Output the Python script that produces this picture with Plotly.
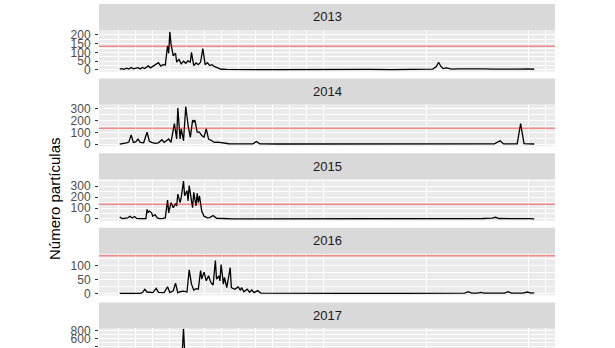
import plotly.graph_objects as go

# ---------------- data (day of year, number of particles) ----------------
years = ["2013", "2014", "2015", "2016", "2017"]

d13 = [1, 3, 5, 7, 9, 11, 13, 15, 17, 19,
       21, 23, 25, 26, 28, 30, 32, 35, 37, 39,
       41, 43, 44, 45, 46, 47, 48, 50, 51, 53,
       55, 57, 59, 61, 63, 64, 66, 68, 70, 72,
       74, 76, 78, 80, 82, 84, 86, 88, 90, 95,
       100, 110, 120, 140, 160, 180, 200, 220, 240, 260,
       270, 276, 279, 281, 283, 285, 288, 292, 300, 310,
       320, 330, 340, 350, 360, 365]
v13 = [5, 8, 4, 10, 5, 14, 6, 9, 13, 6,
       14, 8, 15, 23, 12, 20, 25, 42, 22, 30,
       28, 138, 95, 217, 150, 100, 80, 95, 45, 60,
       35, 50, 38, 52, 45, 100, 25, 40, 30, 45,
       122, 30, 42, 25, 30, 20, 15, 8, 4, 3,
       2, 3, 2, 2, 3, 2, 2, 3, 2, 3,
       3, 5, 20, 44, 20, 8, 12, 5, 6, 4,
       6, 5, 7, 5, 6, 4]

d14 = [1, 4, 7, 9, 11, 13, 15, 17, 19, 22,
       25, 27, 29, 32, 35, 38, 40, 44, 46, 49,
       51, 52, 54, 55, 57, 59, 61, 63, 65, 66,
       67, 69, 71, 73, 75, 77, 79, 82, 84, 87,
       90, 93, 97, 101, 110, 118, 121, 124, 140, 160,
       180, 200, 220, 240, 260, 275, 280, 285, 300, 315,
       330, 335, 338, 345, 350, 353, 356, 360, 365]
v14 = [0, 3, 12, 18, 79, 15, 20, 44, 15, 12,
       102, 25, 15, 8, 12, 38, 15, 44, 15, 175,
       44, 306, 44, 131, 30, 320, 160, 58, 204, 190,
       204, 102, 102, 73, 60, 131, 44, 29, 15, 18,
       12, 6, 4, 3, 2, 3, 23, 3, 2, 2,
       1, 1, 1, 1, 2, 2, 6, 2, 2, 2,
       3, 29, 3, 3, 4, 175, 5, 3, 2]

d15 = [1, 3, 5, 8, 10, 12, 14, 16, 19, 22,
       24, 25, 26, 27, 29, 30, 32, 34, 36, 39,
       41, 43, 44, 46, 48, 50, 51, 52, 54, 55,
       57, 58, 60, 61, 62, 64, 65, 66, 68, 69,
       70, 71, 73, 75, 78, 80, 83, 86, 90, 95,
       100, 120, 150, 200, 250, 280, 290, 300, 310, 320,
       328, 331, 334, 340, 350, 360, 365]
v15 = [18, 3, 6, 10, 25, 8, 22, 5, 2, 2,
       3, 87, 60, 72, 56, 25, 40, 9, 2, 5,
       9, 172, 56, 150, 103, 140, 119, 228, 150, 197,
       347, 212, 259, 166, 306, 166, 103, 244, 119, 234,
       150, 212, 72, 25, 9, 12, 31, 6, 4, 2,
       1, 1, 1, 1, 1, 2, 5, 4, 6, 4,
       8, 15, 4, 5, 3, 2, 1]

d16 = [1, 10, 19, 21, 23, 25, 30, 33, 35, 40,
       43, 45, 48, 50, 52, 54, 57, 60, 62, 64,
       66, 68, 70, 72, 73, 75, 77, 79, 81, 83,
       85, 86, 88, 89, 90, 91, 92, 93, 95, 98,
       99, 102, 105, 107, 108, 110, 113, 115, 117, 119,
       122, 125, 150, 200, 250, 300, 304, 307, 310, 315,
       318, 321, 330, 339, 342, 345, 355, 359, 362, 365]
v16 = [0, 0, 0, 3, 15, 5, 3, 18, 4, 3,
       24, 3, 9, 37, 2, 6, 8, 5, 84, 33,
       12, 17, 15, 82, 51, 76, 45, 63, 39, 30,
       118, 51, 63, 45, 103, 70, 33, 57, 21, 92,
       21, 15, 23, 11, 21, 6, 15, 4, 12, 3,
       10, 1, 0, 0, 0, 1, 1, 6, 1, 1,
       4, 1, 1, 1, 6, 1, 1, 5, 1, 2]

d17 = [1, 10, 20, 30, 40, 45, 50, 54, 56, 57,
       58, 60, 65, 70, 80, 90, 100, 150, 250, 365]
v17 = [5, 15, 30, 50, 110, 180, 230, 260, 300, 845,
       290, 250, 200, 140, 60, 20, 5, 2, 2, 2]

threshold = 135

x_major = [0, 30, 60, 90, 120, 150, 180, 270, 360]
x_minor = [15, 45, 75, 105, 135, 165, 375]

y_major = [[0, 50, 100, 150, 200], [0, 100, 200, 300], [0, 100, 200, 300],
           [0, 50, 100], [0, 200, 400, 600, 800]]
y_minor = [[25, 75, 125, 175, 225], [50, 150, 250, 350], [50, 150, 250, 350],
           [25, 75, 125], [300, 500, 700]]

days = [d13, d14, d15, d16, d17]
vals = [v13, v14, v15, v16, v17]

# ---------------- layout geometry ----------------
W, H = 615, 348
PL, PR = 99, 555
STRIP_H = 26
PANEL_H = 41.5
PERIOD = 74.6


def fx(px):
    return px / W


def fy(py):
    return 1 - py / H


FONT = "Liberation Sans, Arial, Helvetica, sans-serif"

xmin, xmax = min(min(d) for d in days), max(max(d) for d in days)
xpad = 0.05 * (xmax - xmin)
xr = [xmin - xpad, xmax + xpad]

fig = go.Figure()
layout = dict(
    width=W, height=H, autosize=False,
    margin=dict(l=0, r=0, t=0, b=0, pad=0, autoexpand=False),
    paper_bgcolor="white", plot_bgcolor="#EBEBEB",
    showlegend=False,
    font=dict(family=FONT),
    shapes=[], annotations=[],
)

for k, yr in enumerate(years):
    ax = "" if k == 0 else str(k + 1)
    st = 4 + PERIOD * k
    pt = st + STRIP_H
    pb = min(pt + PANEL_H, H)

    v = vals[k]
    if k < 4:
        lo = min(v)
        hi = max(max(v), threshold)
        pad = 0.05 * (hi - lo)
        yrange = [lo - pad, hi + pad]
    else:
        yrange = [363, 855]

    fig.add_trace(go.Scatter(
        x=days[k], y=v, mode="lines",
        line=dict(color="black", width=1.3),
        xaxis="x" + ax, yaxis="y" + ax, hoverinfo="skip",
    ))

    layout["xaxis" + ax] = dict(
        domain=[fx(PL), fx(PR)], range=xr, anchor="y" + ax,
        tickmode="array", tickvals=x_major, showticklabels=False, ticks="",
        showgrid=True, gridcolor="white", gridwidth=1.3,
        zeroline=False, showline=False, fixedrange=True, automargin=False,
        minor=dict(tickmode="array", tickvals=x_minor, showgrid=True,
                   gridcolor="white", gridwidth=0.6, ticks=""),
    )
    layout["yaxis" + ax] = dict(
        domain=[fy(pb), fy(pt)], range=yrange, anchor="x" + ax,
        tickmode="array", tickvals=y_major[k],
        ticks="outside", ticklen=3, tickwidth=1, tickcolor="#333333",
        ticklabelstandoff=2, automargin=False,
        tickfont=dict(size=12, color="#4D4D4D", family=FONT),
        showgrid=True, gridcolor="white", gridwidth=1.3,
        zeroline=False, showline=False, fixedrange=True,
        minor=dict(tickmode="array", tickvals=y_minor[k], showgrid=True,
                   gridcolor="white", gridwidth=0.6, ticks=""),
    )

    # strip
    layout["shapes"].append(dict(
        type="rect", xref="paper", yref="paper",
        x0=fx(PL), x1=fx(PR), y0=fy(pt), y1=fy(st),
        fillcolor="#D9D9D9", line=dict(width=0), layer="below",
    ))
    layout["annotations"].append(dict(
        text=yr, xref="paper", yref="paper",
        x=fx((PL + PR) / 2), y=fy(st + STRIP_H / 2),
        xanchor="center", yanchor="middle", showarrow=False,
        font=dict(size=13, color="#1A1A1A", family=FONT),
    ))

    # threshold line
    if yrange[0] <= threshold <= yrange[1]:
        layout["shapes"].append(dict(
            type="line", xref="x" + ax + " domain", yref="y" + ax,
            x0=0, x1=1, y0=threshold, y1=threshold,
            line=dict(color="rgba(255,0,0,0.42)", width=1.6),
        ))

layout["annotations"].append(dict(
    text="Número partículas", xref="paper", yref="paper",
    x=fx(54.7), y=fy(198.3), textangle=-90,
    xanchor="center", yanchor="middle", showarrow=False,
    font=dict(size=15, color="black", family=FONT),
))

fig.update_layout(**layout)
fig.write_html("out.html")
